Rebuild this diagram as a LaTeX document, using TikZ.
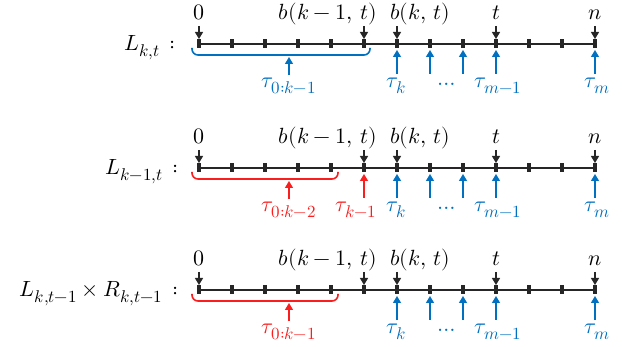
\documentclass[tikz,border=0pt]{standalone}
\usepackage{unicode-math}
\setmathfont{Latin Modern Math}
\DeclareMathSizes{22}{22}{17}{13}
\usetikzlibrary{arrows.meta}
\definecolor{tblue}{RGB}{0,112,192}
\definecolor{tred}{RGB}{250,30,30}
\tikzset{
  lbl/.style={font=\fontsize{22}{26}\selectfont, inner sep=0pt},
  tickmark/.style={fill=black!85, draw=none, minimum width=4pt, minimum height=9pt, inner sep=0pt},
  mainline/.style={line width=1.6pt, black!85},
  downarr/.style={-{Triangle[width=8pt,length=7pt]}, line width=1.3pt, black!85},
  uparrb/.style={-{Triangle[width=8pt,length=7pt]}, line width=1.3pt, tblue},
  uparrr/.style={-{Triangle[width=8pt,length=7pt]}, line width=1.3pt, tred},
  bracketbl/.style={rounded corners=6pt, line width=1.6pt, tblue},
  bracketrd/.style={rounded corners=6pt, line width=1.6pt, tred},
}
\begin{document}
\begin{tikzpicture}[x=1pt,y=-1pt]
\useasboundingbox (0,0) rectangle (625,347);
\foreach \r/\y in {1/44,2/168,3/290}{
  \foreach \i in {0,...,12}{
    \coordinate (c\r t\i) at ({199+33*\i},\y);
  }
  \draw[mainline] (c\r t0) -- (c\r t12);
  \foreach \i in {0,...,12}{
    \node[tickmark] (r\r t\i) at (c\r t\i) {};
  }
  \foreach \i in {0,5,6,9,12}{
    \coordinate (a\r top\i) at ({199+33*\i},\y-18);
    \draw[downarr] (a\r top\i) -- ([yshift=5pt]c\r t\i);
  }
  \node[lbl, anchor=base] (z\r) at (199,\y-24) {$0$};
  \node[lbl, anchor=base east] (bk1\r) at (377,\y-24) {$b(k-1,\,t)$};
  \node[lbl, anchor=base west] (bk\r) at (390,\y-24) {$b(k,\,t)$};
  \node[lbl, anchor=base] (tt\r) at (496,\y-24) {$t$};
  \node[lbl, anchor=base] (nn\r) at (595,\y-24) {$n$};
  \foreach \i in {6,7,8,9,12}{
    \coordinate (b\r bot\i) at ({199+33*\i},\y+30);
    \draw[uparrb] (b\r bot\i) -- ([yshift=-6pt]c\r t\i);
  }
  \node[lbl, anchor=base, text=tblue] (tk\r) at (396,\y+44) {$\tau_k$};
  \node[lbl, anchor=base, text=tblue] (dots\r) at (447,\y+42) {$\ldots$};
  \node[lbl, anchor=base, text=tblue] (tm1\r) at (498,\y+44) {$\tau_{m-1}$};
  \node[lbl, anchor=base, text=tblue] (tm\r) at (597,\y+44) {$\tau_m$};
}
% row 1
\coordinate (br1a) at (192,48);
\coordinate (br1b) at (370,48);
\draw[bracketbl] (br1a) -- ++(0,7) -| (br1b);
\coordinate (ar1s) at (289,75);
\coordinate (ar1e) at (289,57);
\draw[uparrb] (ar1s) -- (ar1e);
\node[lbl, anchor=base, text=tblue] (tau01) at (289,88) {$\tau_{0:k-1}$};
\node[lbl, anchor=base east] (L1) at (176,51) {$L_{k,t}\,:$};
% row 2
\coordinate (br2a) at (192,172);
\coordinate (br2b) at (338,172);
\draw[bracketrd] (br2a) -- ++(0,7) -| (br2b);
\coordinate (ar2s) at (289,199);
\coordinate (ar2e) at (289,181);
\draw[uparrr] (ar2s) -- (ar2e);
\node[lbl, anchor=base, text=tred] (tau02) at (289,212) {$\tau_{0:k-2}$};
\coordinate (ar2ks) at (364,198);
\draw[uparrr] (ar2ks) -- ([yshift=-6pt]c2t5);
\node[lbl, anchor=base, text=tred] (tkm1) at (356,212) {$\tau_{k-1}$};
\node[lbl, anchor=base east] (L2) at (179,175) {$L_{k-1,t}\,:$};
% row 3
\coordinate (br3a) at (192,294);
\coordinate (br3b) at (338,294);
\draw[bracketrd] (br3a) -- ++(0,7) -| (br3b);
\coordinate (ar3s) at (289,321);
\coordinate (ar3e) at (289,303);
\draw[uparrr] (ar3s) -- (ar3e);
\node[lbl, anchor=base, text=tred] (tau03) at (289,334) {$\tau_{0:k-1}$};
\node[lbl, anchor=base east] (L3) at (179,297) {$L_{k,t-1}\times R_{k,t-1}\,:$};
\end{tikzpicture}
\end{document}
